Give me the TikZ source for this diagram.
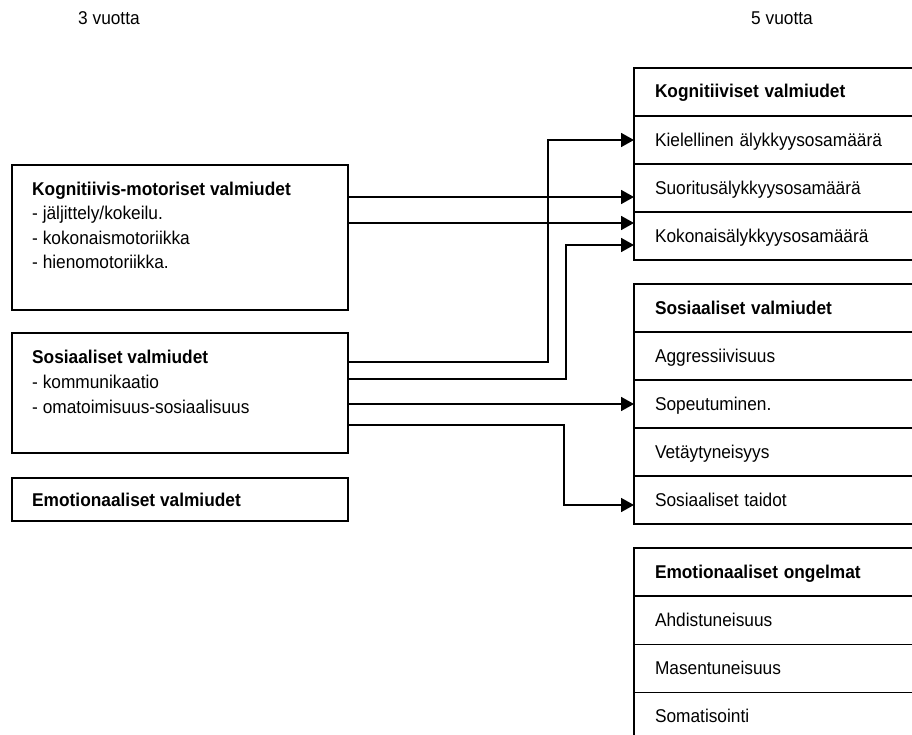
\documentclass[tikz,border=0pt]{standalone}
\usepackage{fontspec}
\usepackage{graphicx}
\setmainfont{Liberation Sans}
\usetikzlibrary{arrows.meta,calc}
% slightly tall lettering
\newcommand{\tl}[1]{\scalebox{1}[1.07]{#1}}
\begin{document}
\begin{tikzpicture}[x=1bp,y=-1bp,
  every node/.style={font=\fontsize{17.3bp}{20bp}\selectfont, inner sep=0pt},
  leftbox/.style={draw, line width=1.7bp, anchor=north west, minimum width=336bp},
  linetext/.style={anchor=base west},
  boldtext/.style={linetext, font=\fontsize{17.3bp}{20bp}\selectfont\bfseries},
  rowbox/.style={draw, line width=1.7bp, anchor=north west, minimum width=282bp,
    minimum height=48bp, inner xsep=21bp, text width=240bp, align=left,
    text height=13bp, text depth=1bp, outer sep=0pt},
  headrow/.style={rowbox, font=\fontsize{17.3bp}{20bp}\selectfont\bfseries},
  conn/.style={line width=1.7bp, -{Triangle[length=13bp,width=14bp]}}]

\useasboundingbox (0,0) rectangle (912,735);

% age headings
\node[linetext] (age3) at (78,25) {\tl{3 vuotta}};
\node[linetext] (age5) at (751,25) {\tl{5 vuotta}};

% left column: abilities at age 3
\node[leftbox, minimum height=145bp] (kmbox) at (11,164) {};
\node[boldtext] (km1) at (32,195.3) {\tl{Kognitiivis-motoriset valmiudet}};
\node[linetext] (km2) at (32,219.5) {\tl{- jäljittely/kokeilu.}};
\node[linetext] (km3) at (32,244) {\tl{- kokonaismotoriikka}};
\node[linetext] (km4) at (32,268.5) {\tl{- hienomotoriikka.}};

\node[leftbox, minimum height=120bp] (sosbox) at (11,332) {};
\node[boldtext] (so1) at (32,363.3) {\tl{Sosiaaliset valmiudet}};
\node[linetext] (so2) at (32,388) {\tl{- kommunikaatio}};
\node[linetext] (so3) at (32,413) {\tl{- omatoimisuus-sosiaalisuus}};

\node[leftbox, minimum height=43bp] (emobox) at (11,477) {};
\node[boldtext] (em1) at (32,506.7) {\tl{Emotionaaliset valmiudet}};

% right column: outcomes at age 5
\node[headrow] (kogH) at (634,68) {\tl{Kognitiiviset valmiudet}};
\node[rowbox] (kiel) at (634,116) {\tl{Kielellinen älykkyysosamäärä}};
\node[rowbox] (suor) at (634,164) {\tl{Suoritusälykkyysosamäärä}};
\node[rowbox] (koko) at (634,212) {\tl{Kokonaisälykkyysosamäärä}};

\node[headrow] (sosH) at (634,284) {\tl{Sosiaaliset valmiudet}};
\node[rowbox] (aggr) at (634,332) {\tl{Aggressiivisuus}};
\node[rowbox] (sope) at (634,380) {\tl{Sopeutuminen.}};
\node[rowbox] (veta) at (634,428) {\tl{Vetäytyneisyys}};
\node[rowbox] (stai) at (634,476) {\tl{Sosiaaliset taidot}};

\node[headrow] (emoH) at (634,548) {\tl{Emotionaaliset ongelmat}};
\node[rowbox] (ahdi) at (634,596.5) {\tl{Ahdistuneisuus}};
\node[rowbox] (mase) at (634,644.5) {\tl{Masentuneisuus}};
\node[rowbox] (soma) at (634,692.5) {\tl{Somatisointi}};

% connectors
\draw[conn] (kmbox.east |- 0,197) -- (suor.west |- 0,197);
\draw[conn] (kmbox.east |- 0,223) -- (koko.west |- 0,223);
\draw[conn] (sosbox.east |- 0,362) -| ($(kiel.west)+(-86,0)$) -- (kiel.west);
\draw[conn] (sosbox.east |- 0,379) -| (566,245) -- (koko.west |- 0,245);
\draw[conn] (sosbox.east |- sope.west) -- (sope.west);
\draw[conn] (sosbox.east |- 0,425) -| (564,505) -- (stai.west |- 0,505);
\end{tikzpicture}
\end{document}
